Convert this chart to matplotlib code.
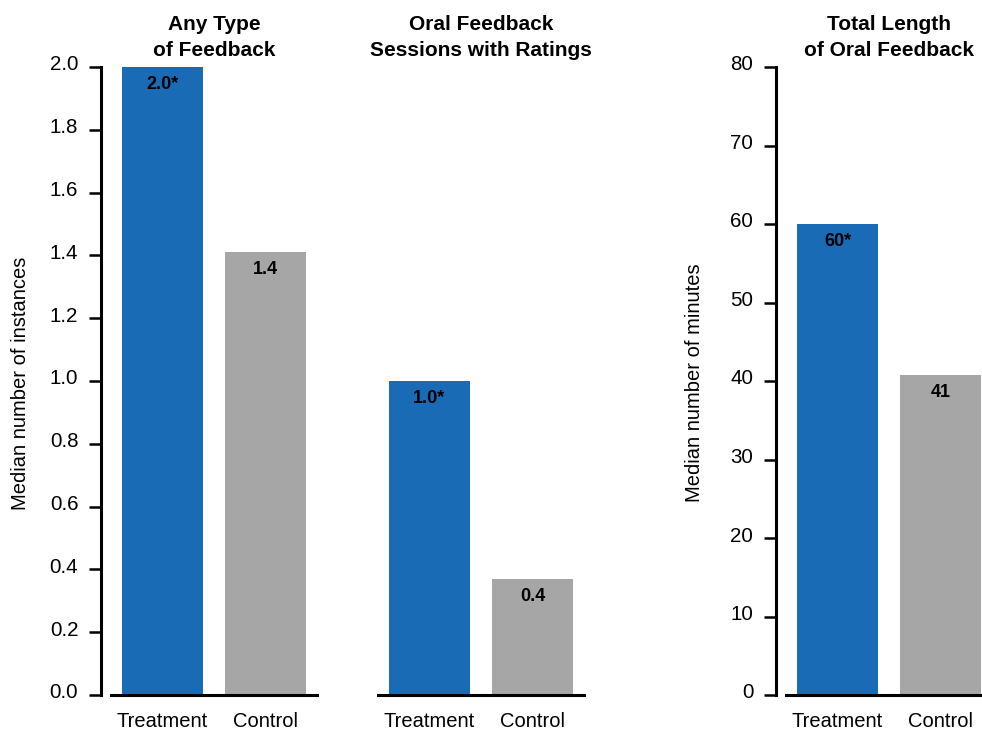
import matplotlib
matplotlib.use("Agg")
import matplotlib.pyplot as plt
from matplotlib.transforms import ScaledTranslation

plt.rcParams['font.family'] = ['Liberation Sans', 'DejaVu Sans']

categories = ["Treatment", "Control"]
titles = ["Any Type\nof Feedback", "Oral Feedback\nSessions with Ratings", "Total Length\nof Oral Feedback"]
values_any = [2.0, 1.41]
values_oral = [1.0, 0.37]
values_length = [60, 40.8]
labels_any = ["2.0*", "1.4"]
labels_oral = ["1.0*", "0.4"]
labels_length = ["60*", "41"]
ticks_instances = [0.0, 0.2, 0.4, 0.6, 0.8, 1.0, 1.2, 1.4, 1.6, 1.8, 2.0]
ticks_minutes = [0, 10, 20, 30, 40, 50, 60, 70, 80]

BLUE = "#1a6bb5"
GRAY = "#a6a6a6"

W, H = 982, 730
fig = plt.figure(figsize=(W / 100, H / 100), dpi=100)

def make_ax(left_px):
    return fig.add_axes([left_px / W, 35 / H, 206 / W, 628 / H])

panels = [
    (111, values_any, labels_any, titles[0], (0, 2.0), ticks_instances, "{:.1f}", True),
    (378, values_oral, labels_oral, titles[1], (0, 2.0), None, None, False),
    (786, values_length, labels_length, titles[2], (0, 80), ticks_minutes, "{:d}", True),
]

shift = ScaledTranslation(0, 4 / 100, fig.dpi_scale_trans)

for left, vals, labs, title, ylim, ticks, fmt, show_y in panels:
    ax = make_ax(left)
    x = list(range(len(categories)))
    bars = ax.bar(x, vals, width=0.786, color=[BLUE, GRAY], linewidth=0)
    ax.set_xlim(-0.5, 1.5)
    ax.set_ylim(*ylim)
    ax.set_xticks(x)
    ax.set_xticklabels(categories, fontsize=14.5)
    ax.tick_params(axis='x', length=0, pad=12.5)
    for s in ['top', 'right']:
        ax.spines[s].set_visible(False)
    ax.spines['bottom'].set_linewidth(2.2)
    ax.spines['bottom'].set_color('black')
    if show_y:
        ax.spines['left'].set_position(('outward', 7))
        ax.spines['left'].set_linewidth(2.2)
        ax.set_yticks(ticks)
        ax.set_yticklabels([fmt.format(t) for t in ticks], fontsize=14.8)
        ax.tick_params(axis='y', length=8.5, width=1.8, pad=8)
        for lab in ax.get_yticklabels():
            lab.set_transform(lab.get_transform() + shift)
    else:
        ax.spines['left'].set_visible(False)
        ax.set_yticks([])
    ax.set_title(title, fontsize=15, fontweight='bold', pad=8, linespacing=1.45)
    for b, lab in zip(bars, labs):
        ax.annotate(lab, (b.get_x() + b.get_width() / 2, b.get_height()),
                    xytext=(0, -12.5), textcoords='offset points',
                    ha='center', va='center', fontsize=13, fontweight='bold')

fig.text(21 / W, 1 - 383 / H, "Median number of instances", rotation=90,
         ha='center', va='center', fontsize=14.5)
fig.text(694 / W, 1 - 383 / H, "Median number of minutes", rotation=90,
         ha='center', va='center', fontsize=14.5)

fig.savefig("out.png", dpi=100)
